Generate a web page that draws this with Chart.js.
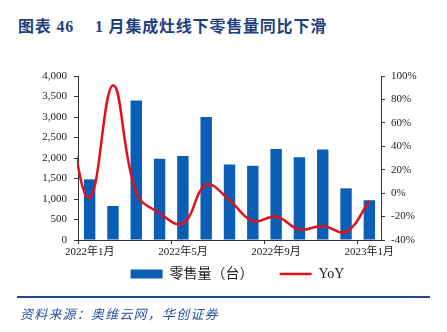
<!DOCTYPE html>
<html lang="zh">
<head>
  <meta charset="UTF-8">
  <title>1月集成灶线下零售量同比下滑</title>
  <script src="https://cdn.jsdelivr.net/npm/chart.js"></script>
  <style>
    body { margin: 0; background: #fff; }
    #wrap { position: relative; width: 447px; height: 332px; background: #fff; overflow: hidden; }
    .title { position: absolute; top: 18px; font: bold 16px "Liberation Serif", "Noto Sans CJK SC", serif; color: #1f3f7f; line-height: 17px; white-space: nowrap; letter-spacing: 0.8px; }
    #rule { position: absolute; left: 17px; top: 296px; width: 413px; height: 2px; background: #24498a; }
    #src { position: absolute; left: 20px; top: 306px; font: italic 13px "Noto Sans CJK SC", sans-serif; color: #2a52a0; letter-spacing: 1.2px; line-height: 16px; white-space: nowrap; }
    #c { position: absolute; left: 0; top: 0; }
  </style>
</head>
<body>
<div id="wrap">
  <div class="title" style="left:18px">图表 46</div>
  <div class="title" style="left:95px">1 月集成灶线下零售量同比下滑</div>
  <canvas id="c" width="447" height="312"></canvas>
  <div id="rule"></div>
  <div id="src">资料来源：奥维云网，华创证券</div>
</div>

<script>
// months shown on the bar axis
const months = ['2022年1月', '2022年2月', '2022年3月', '2022年4月', '2022年5月', '2022年6月',
  '2022年7月', '2022年8月', '2022年9月', '2022年10月', '2022年11月', '2022年12月', '2023年1月'];
// retail volume (units)
const sales = [1480, 830, 3400, 1980, 2050, 3000, 1840, 1810, 2220, 2020, 2210, 1260, 970];
// YoY line starts one month earlier, it is cut off at the left edge
const yoyMonths = ['2021年12月'].concat(months);
const yoy = [72, -4, 92, 0, -17, -26, 7, -6, -24, -20, -31, -28, -33, -7];

const serif = '"Liberation Serif", "Noto Sans CJK SC", serif';

// legend padding is wide for the gap between items, pull it up closer to the axis
const liftLegend = {
  id: 'liftLegend',
  afterLayout(chart) {
    chart.legend.top -= 21;
    chart.legend.bottom -= 21;
  }
};

new Chart(document.getElementById('c'), {
  type: 'bar',
  data: {
    labels: months,
    datasets: [
      {
        label: '零售量（台）',
        data: sales,
        backgroundColor: '#0a5eb5',
        borderWidth: 0,
        barPercentage: 0.49,
        categoryPercentage: 1,
        grouped: false,
        yAxisID: 'y',
        xAxisID: 'x',
        order: 1,
        pointStyle: 'rect'
      },
      {
        type: 'line',
        label: 'YoY',
        data: yoy,
        borderColor: '#e3101c',
        borderWidth: 2.5,
        pointRadius: 0,
        tension: 0.4,
        fill: false,
        yAxisID: 'y1',
        xAxisID: 'xl',
        order: 0,
        pointStyle: 'line',
        clip: 1
      }
    ]
  },
  plugins: [liftLegend],
  options: {
    responsive: false,
    animation: false,
    layout: { padding: { left: 28, right: 0, top: 76, bottom: 0 } },
    plugins: {
      tooltip: { enabled: false },
      legend: {
        position: 'bottom',
        labels: {
          usePointStyle: true,
          pointStyleWidth: 32,
          boxHeight: 9,
          padding: 26,
          color: '#222',
          font: { family: serif, size: 14 },
          sort: (a, b) => a.datasetIndex - b.datasetIndex
        }
      }
    },
    scales: {
      x: {
        offset: true,
        grid: {
          offset: true,
          drawOnChartArea: false,
          tickLength: 4,
          tickColor: (c) => (c.index % 4 === 0 ? '#333' : 'rgba(0,0,0,0)')
        },
        border: { color: '#333', width: 1 },
        ticks: {
          autoSkip: false,
          maxRotation: 0,
          padding: 2,
          color: '#222',
          font: { family: serif, size: 11 },
          callback: function (v, i) { return i % 4 === 0 ? months[i] : ''; }
        },
        afterFit: (s) => { s.height = 22; }
      },
      xl: {
        type: 'category',
        labels: yoyMonths,
        min: '2022年1月',
        max: '2023年1月',
        offset: true,
        display: false
      },
      y: {
        position: 'left',
        min: 0,
        max: 4000,
        grid: { drawOnChartArea: false, tickLength: 4, tickColor: '#333' },
        border: { color: '#333', width: 1 },
        ticks: {
          stepSize: 500,
          padding: 7,
          color: '#222',
          font: { family: serif, size: 11 },
          callback: (v) => v.toLocaleString('en-US')
        },
        afterFit: (s) => { s.width = 50; }
      },
      y1: {
        position: 'right',
        min: -40,
        max: 100,
        grid: { drawOnChartArea: false, tickLength: 4, tickColor: '#333' },
        border: { color: '#333', width: 1 },
        ticks: {
          stepSize: 20,
          padding: 6,
          color: '#222',
          font: { family: serif, size: 11 },
          callback: (v) => v + '%'
        },
        afterFit: (s) => { s.width = 66; }
      }
    }
  }
});
</script>
</body>
</html>
